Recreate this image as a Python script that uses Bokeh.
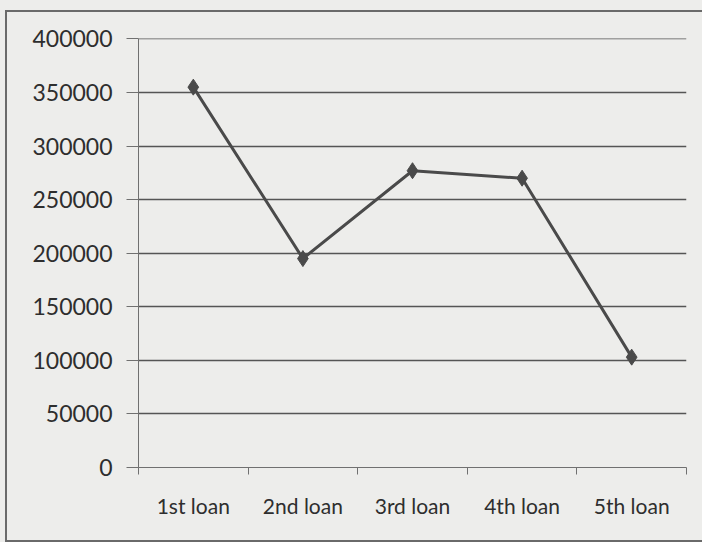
from bokeh.plotting import figure
from bokeh.models import FixedTicker, NumeralTickFormatter, LinearAxis
from bokeh.layouts import column
from bokeh.embed import file_html
from bokeh.resources import INLINE

# Loan rounds and the amount for each round
loans = ["1st loan", "2nd loan", "3rd loan", "4th loan", "5th loan"]
amounts = [355000, 195000, 277000, 270000, 103000]
y_ticks = [0, 50000, 100000, 150000, 200000, 250000, 300000, 350000, 400000]

# each loan sits in the middle of its own unit-wide slot on the x axis
slot_centers = [i + 0.5 for i in range(len(loans))]
slot_edges = list(range(len(loans) + 1))

BG = "#ededeb"
INK = "#4a4a4a"
AXIS = "#707070"
TEXT = "#2e2e2e"
FONT = "Lato"
FRAME = "2px solid #6a6a6a"

p = figure(
    x_range=(0, len(loans)),
    y_range=(0, 400400),
    width=697,
    height=532,
    output_backend="svg",
    toolbar_location=None,
    x_axis_location=None,
    min_border_left=131,
    min_border_right=18,
    min_border_top=26,
    min_border_bottom=77,
    background_fill_color=BG,
    border_fill_color=BG,
    styles={"margin-left": "5px", "margin-top": "10px",
            "border-left": FRAME, "border-top": FRAME, "border-bottom": FRAME},
)
p.outline_line_color = None

p.line(slot_centers, amounts, line_color=INK, line_width=3)
p.scatter(slot_centers, amounts, marker="diamond", size=16, fill_color=INK, line_color=INK)

# y axis
p.yaxis.ticker = FixedTicker(ticks=y_ticks)
p.yaxis.formatter = NumeralTickFormatter(format="0")
p.yaxis.axis_line_color = AXIS
p.yaxis.major_tick_line_color = AXIS
p.yaxis.major_tick_out = 12
p.yaxis.major_tick_in = 0
p.yaxis.minor_tick_line_color = None
p.yaxis.major_label_text_font = FONT
p.yaxis.major_label_text_font_size = "23px"
p.yaxis.major_label_text_color = TEXT
p.yaxis.major_label_standoff = 14

# x axis: names under the slot centres, small ticks on the slot edges
x_axis = LinearAxis(
    ticker=FixedTicker(ticks=slot_centers, minor_ticks=slot_edges),
    major_label_overrides={c: name for c, name in zip(slot_centers, loans)},
)
x_axis.axis_line_color = AXIS
x_axis.major_tick_line_color = None
x_axis.major_tick_out = 0
x_axis.major_tick_in = 0
x_axis.minor_tick_line_color = AXIS
x_axis.minor_tick_out = 7
x_axis.minor_tick_in = 0
x_axis.major_label_text_font = FONT
x_axis.major_label_text_font_size = "21px"
x_axis.major_label_text_color = TEXT
x_axis.major_label_standoff = 18
p.add_layout(x_axis, "below")

p.xgrid.grid_line_color = None
p.ygrid.grid_line_color = "#555555"
p.ygrid.grid_line_width = 1.3

root = column(p, styles={"background-color": BG})

open("out.html", "w").write(file_html(root, INLINE))
